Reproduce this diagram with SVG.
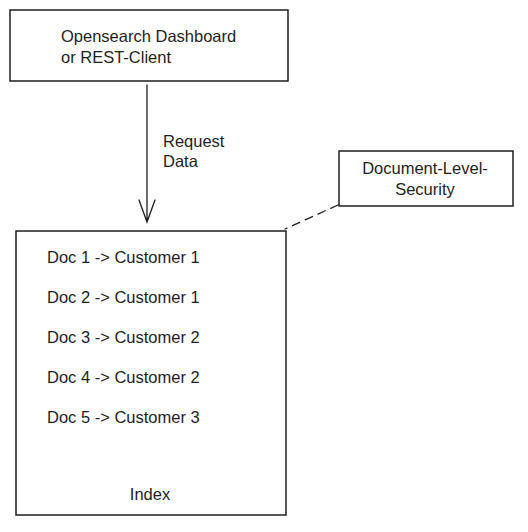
<svg xmlns="http://www.w3.org/2000/svg" width="528" height="532" viewBox="0 0 528 532">
<style>
.box{fill:#fff;stroke:#1e1e1e;stroke-width:1.5}
.t{font-family:"Liberation Sans",Arial,sans-serif;font-size:16.5px;fill:#1e1e1e}
.c{text-anchor:middle}
.ln{fill:none;stroke:#1e1e1e;stroke-width:1.3;stroke-linecap:round}
</style>
<rect width="528" height="532" fill="#fff"/>
<g id="client">
<rect class="box" x="10" y="10" width="278" height="71"/>
<text class="t" x="61" y="42">Opensearch Dashboard</text>
<text class="t" x="61" y="63">or REST-Client</text>
</g>
<g id="dls">
<rect class="box" x="339" y="151" width="174" height="55"/>
<text class="t c" x="425" y="174">Document-Level-</text>
<text class="t c" x="425" y="195">Security</text>
</g>
<g id="index">
<rect class="box" x="16" y="231" width="270" height="284"/>
<text class="t" x="47" y="263">Doc 1 -&gt; Customer 1</text>
<text class="t" x="47" y="303">Doc 2 -&gt; Customer 1</text>
<text class="t" x="47" y="343">Doc 3 -&gt; Customer 2</text>
<text class="t" x="47" y="383">Doc 4 -&gt; Customer 2</text>
<text class="t" x="47" y="423">Doc 5 -&gt; Customer 3</text>
<text class="t c" x="150" y="500">Index</text>
</g>
<g id="connectors">
<path class="ln" d="M147 85 L147 222 M139 200 L147 222 L155 200"/>
<text class="t" x="163" y="147">Request</text>
<text class="t" x="163" y="167">Data</text>
<path class="ln" d="M338 205 L285 229" stroke-dasharray="8 6"/>
</g>
</svg>
